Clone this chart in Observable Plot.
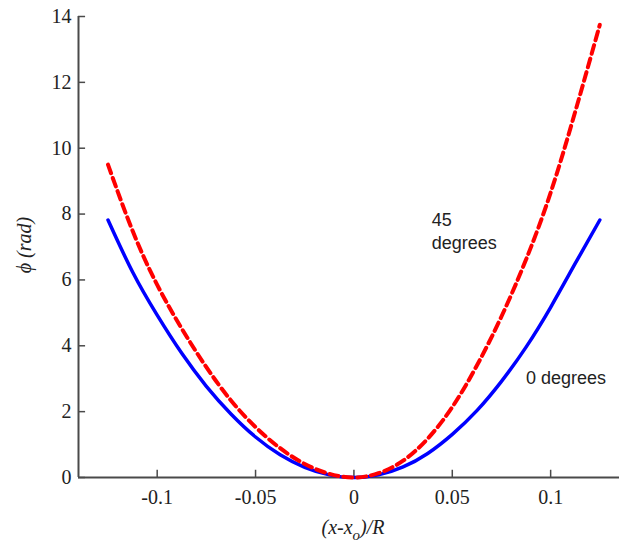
<!DOCTYPE html>
<html><head><meta charset="utf-8">
<script src="https://cdn.jsdelivr.net/npm/d3@7"></script>
<script src="https://cdn.jsdelivr.net/npm/@observablehq/plot@0.6"></script>
<style>
body{margin:0;background:#fff}
.serifTxt { font-family: "Liberation Serif", "DejaVu Serif", serif !important; }
</style>
</head><body><div id="chart"></div>
<script>
const xs = [-0.125,-0.1125,-0.1,-0.0875,-0.075,-0.0625,-0.05,-0.0375,-0.025,-0.0125,0,0.0125,0.025,0.0375,0.05,0.0625,0.075,0.0875,0.1,0.1125,0.125];
const phi0 = [7.82,6.24,4.93,3.77,2.77,1.93,1.23,0.69,0.31,0.08,0,0.08,0.32,0.73,1.31,2.03,2.92,3.96,5.17,6.5,7.82];
const phi45 = [9.5,7.49,5.85,4.52,3.35,2.34,1.53,0.89,0.41,0.11,0,0.13,0.51,1.18,2.14,3.40,4.89,6.62,8.65,11.11,13.75];
const xTicks = [-0.1,-0.05,0,0.05,0.1];
const yTicks = [0,2,4,6,8,10,12,14];
const xDomain = [-0.14, 0.135];
const yDomain = [0, 14];

const d0 = xs.map((x,i)=>({x, y: phi0[i]}));
const d45 = xs.map((x,i)=>({x, y: phi45[i]}));
const axisColor = "#4a4a4a";
const sans = "Liberation Sans, Arial, sans-serif";

const plot = Plot.plot({
  width: 622, height: 548,
  marginLeft: 78, marginRight: 3, marginTop: 16, marginBottom: 71,
  x: {domain: xDomain},
  y: {domain: yDomain},
  style: {background: "#fff"},
  marks: [
    Plot.axisX({ticks: xTicks, tickSize: 0, tickPadding: 12, fontSize: 20, className: "serifTxt", tickFormat: d => String(d), label: null, fill: "#222"}),
    Plot.axisY({ticks: yTicks, tickSize: 0, tickPadding: 7, fontSize: 20, className: "serifTxt", tickFormat: d => String(d), label: null, fill: "#222"}),
    Plot.ruleX(xTicks, {x: d => d, y1: 0, y2: 0.22, stroke: axisColor, strokeWidth: 1.5}),
    Plot.ruleY(yTicks, {y: d => d, x1: xDomain[0], x2: xDomain[0] + 0.0036, stroke: axisColor, strokeWidth: 1.5}),
    Plot.ruleY([0], {stroke: axisColor, strokeWidth: 2}),
    Plot.ruleX([xDomain[0]], {y1: 0, y2: 14, stroke: axisColor, strokeWidth: 2}),
    Plot.line(d0, {x: "x", y: "y", stroke: "#0000ff", strokeWidth: 3.5, curve: "natural"}),
    Plot.line(d45, {x: "x", y: "y", stroke: "#ff0000", strokeWidth: 4, strokeDasharray: "9,5", curve: "natural"}),
    Plot.text(["45"], {x: 0.0395, y: 7.8, text: d => d, textAnchor: "start", fontSize: 18, fontFamily: sans, fill: "#222"}),
    Plot.text(["degrees"], {x: 0.0395, y: 7.8, dy: 23, text: d => d, textAnchor: "start", fontSize: 18, fontFamily: sans, fill: "#222"}),
    Plot.text(["0 degrees"], {x: 0.0875, y: 3.0, text: d => d, textAnchor: "start", fontSize: 18, fontFamily: sans, fill: "#222"})
  ]
});
document.getElementById("chart").append(plot);

const svg = d3.select(plot);
svg.selectAll('g[aria-label$="tick label"] text').attr("class", "serifTxt");
const xl = svg.append("text")
  .attr("class", "serifTxt")
  .attr("x", 353).attr("y", 534)
  .attr("text-anchor", "middle")
  .attr("font-style", "italic").attr("font-size", 20).attr("fill", "#222");
xl.append("tspan").text("(x-x");
xl.append("tspan").attr("dy", 6).attr("font-size", 15).text("o");
xl.append("tspan").attr("dy", -6).text(")/R");

svg.append("text")
  .attr("class", "serifTxt")
  .attr("transform", "translate(31,245) rotate(-90)")
  .attr("text-anchor", "middle")
  .attr("font-style", "italic").attr("font-size", 20).attr("fill", "#222")
  .text("ϕ (rad)");
</script>
</body></html>
